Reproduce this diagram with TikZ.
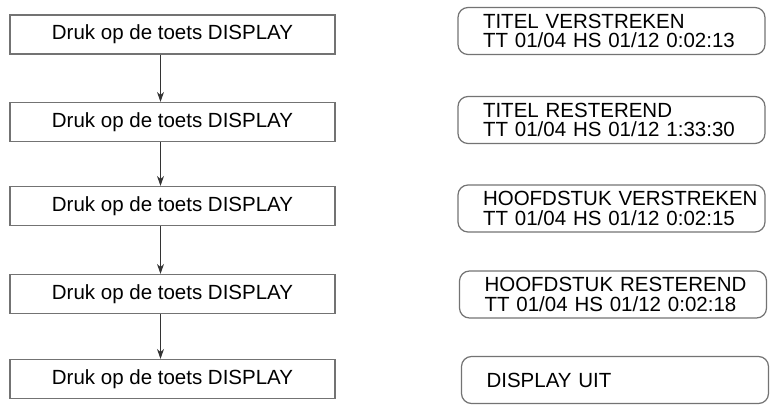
\documentclass[tikz,border=0pt]{standalone}
\usepackage{fontspec}
\setmainfont{Liberation Sans}
\usetikzlibrary{arrows.meta}
\tikzset{
  stapbox/.style={draw=black!55, line width=1.2pt, minimum width=325pt, minimum height=39pt, inner sep=0pt, font=\fontsize{20.5}{19.5}\selectfont},
  schermbox/.style={draw=black!55, line width=1.2pt, rounded corners=10pt, minimum width=307pt, minimum height=47pt, inner xsep=25pt, inner ysep=0pt, text width=257pt, align=left, font=\fontsize{20.5}{19.5}\selectfont},
  pijl/.style={-{Stealth[length=10pt, width=7pt]}, line width=1.3pt, black!80}
}
\begin{document}
\begin{tikzpicture}[x=1pt, y=-1pt]
    \useasboundingbox (0, 0) rectangle (776, 409);
        % knoppen
        \node[stapbox] (stap1) at (172.5, 34.5) {Druk op de toets DISPLAY};
        \node[stapbox] (stap2) at (172.5, 122) {Druk op de toets DISPLAY};
        \node[stapbox] (stap3) at (172.5, 206) {Druk op de toets DISPLAY};
        \node[stapbox] (stap4) at (172.5, 294) {Druk op de toets DISPLAY};
        \node[stapbox] (stap5) at (172.5, 379) {Druk op de toets DISPLAY};
        \draw[pijl] ([xshift=-12pt]stap1.south) to ([xshift=-12pt]stap2.north);
        \draw[pijl] ([xshift=-12pt]stap2.south) to ([xshift=-12pt]stap3.north);
        \draw[pijl] ([xshift=-12pt]stap3.south) to ([xshift=-12pt]stap4.north);
        \draw[pijl] ([xshift=-12pt]stap4.south) to ([xshift=-12pt]stap5.north);
        % schermen
        \node[schermbox] (scherm1) at (611.5, 31) {\mbox{TITEL VERSTREKEN}\\\mbox{TT 01/04 HS 01/12 0:02:13}};
        \node[schermbox] (scherm2) at (611.5, 120) {\mbox{TITEL RESTEREND}\\\mbox{TT 01/04 HS 01/12 1:33:30}};
        \node[schermbox] (scherm3) at (611.5, 208.5) {\mbox{HOOFDSTUK VERSTREKEN}\\\mbox{TT 01/04 HS 01/12 0:02:15}};
        \node[schermbox] (scherm4) at (613, 294.5) {\mbox{HOOFDSTUK RESTEREND}\\\mbox{TT 01/04 HS 01/12 0:02:18}};
        \node[schermbox] (scherm5) at (615, 380) {DISPLAY UIT};
    \end{tikzpicture}
\end{document}
